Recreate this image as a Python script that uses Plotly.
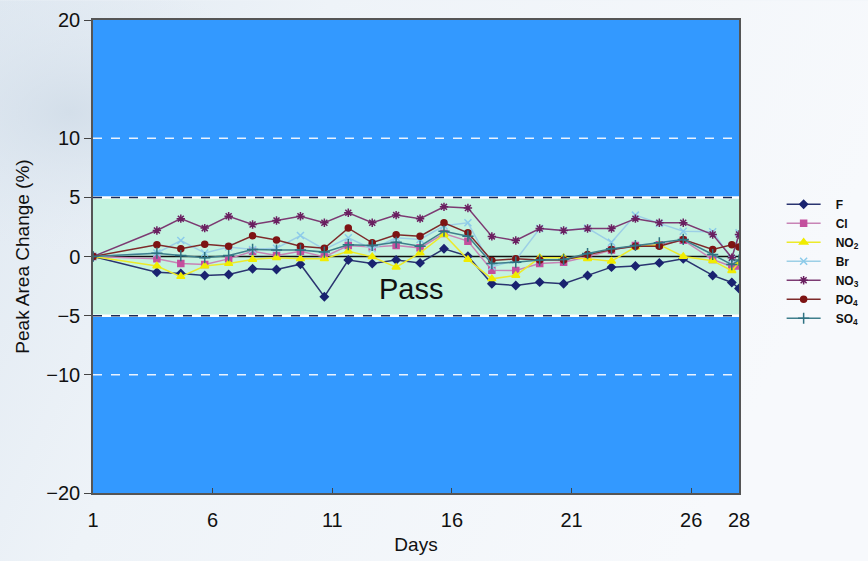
import base64
import plotly.graph_objects as go

# Sampling days for the stability run
days = [1, 3.67, 4.67, 5.67, 6.67, 7.67, 8.67, 9.67, 10.67, 11.67, 12.67, 13.67,
        14.67, 15.67, 16.67, 17.67, 18.67, 19.67, 20.67, 21.67, 22.67, 23.67,
        24.67, 25.67, 26.9, 27.7, 28]

# Peak area change (%) per anion
f_vals = [0, -1.33, -1.44, -1.6, -1.52, -1.04, -1.1, -0.65, -3.4, -0.3, -0.6, -0.3,
          -0.54, 0.65, 0.03, -2.3, -2.45, -2.17, -2.3, -1.6, -0.9, -0.8, -0.54, -0.2,
          -1.6, -2.2, -2.7]
cl_vals = [0, -0.2, -0.6, -0.68, -0.2, 0.45, 0.08, 0.45, -0.03, 0.93, 0.8, 0.93,
           0.73, 1.94, 1.3, -1.16, -1.18, -0.6, -0.48, -0.03, 0.54, 0.93, 1.0, 1.38,
           -0.25, -0.85, -0.8]
no2_vals = [0, -0.8, -1.7, -0.8, -0.6, -0.25, -0.1, -0.2, -0.2, 0.45, -0.03, -0.9,
            0.3, 1.86, -0.25, -1.89, -1.6, -0.1, -0.1, -0.2, -0.4, 0.8, 1.0, 0.0,
            -0.35, -1.2, -0.5]
br_vals = [0, 0.3, 1.35, 0.3, 0.8, 0.6, 0.7, 1.77, 0.6, 1.58, 0.65, 1.58,
           1.44, 2.6, 2.85, -0.87, -0.3, 2.37, 2.2, 2.4, 1.2, 3.5, 2.8, 2.14,
           2.1, -0.2, 2.0]
no3_vals = [0, 2.2, 3.2, 2.4, 3.4, 2.7, 3.04, 3.4, 2.85, 3.7, 2.85, 3.5,
            3.2, 4.2, 4.1, 1.7, 1.35, 2.37, 2.2, 2.37, 2.37, 3.2, 2.85, 2.85,
            1.86, -0.1, 1.86]
po4_vals = [0, 1.0, 0.65, 1.04, 0.87, 1.75, 1.4, 0.87, 0.7, 2.4, 1.16, 1.83,
            1.72, 2.85, 2.0, -0.34, -0.2, -0.3, -0.3, 0.17, 0.6, 0.87, 0.87, 1.44,
            0.6, 1.0, 0.8]
so4_vals = [0, 0.28, 0.08, -0.1, 0.08, 0.6, 0.54, 0.54, 0.37, 1.0, 0.93, 1.2,
            0.87, 2.14, 1.72, -0.6, -0.48, -0.3, -0.25, 0.25, 0.65, 0.93, 1.16, 1.44,
            0.17, -0.68, -0.3]

series_names = ["F", "Cl", "NO<sub>2</sub>", "Br", "NO<sub>3</sub>", "PO<sub>4</sub>", "SO<sub>4</sub>"]
series_vals = [f_vals, cl_vals, no2_vals, br_vals, no3_vals, po4_vals, so4_vals]
line_colors = ["#2a3470", "#c884b6", "#ecea2a", "#9ccfe6", "#7c3a72", "#7e2a2a", "#3f7f8c"]
marker_colors = ["#1a2370", "#c4509e", "#f0ec00", "#8ccbea", "#6a1f60", "#7e1414", "#2f7282"]
symbols = ["diamond", "square", "triangle-up", "x-thin-open", "asterisk-open", "circle", "cross-thin-open"]
marker_sizes = [6, 6, 7, 7, 7, 6, 8]

x_ticks = [1, 6, 11, 16, 21, 26, 28]
y_ticks = [-20, -10, -5, 0, 5, 10, 20]

Y_MIN, Y_MAX = -20, 20
PASS_LIMIT = 5
WARN_LIMIT = 10

font_main = "Liberation Sans Narrow, Arial Narrow, Liberation Sans, Arial, sans-serif"
PAD = "\u00a0\u00a0\u00a0"  # gap between legend symbol and label

# Soft light backdrop for the whole page
bg_svg = (
    '<svg xmlns="http://www.w3.org/2000/svg" width="868" height="561">'
    '<defs><linearGradient id="g" x1="0" y1="0" x2="1" y2="0.3">'
    '<stop offset="0" stop-color="#dfe8f1"/><stop offset="0.35" stop-color="#eef3f8"/>'
    '<stop offset="1" stop-color="#f7f9fc"/></linearGradient>'
    '<radialGradient id="r" cx="0.08" cy="0.2" r="0.25">'
    '<stop offset="0" stop-color="#cfdbe7" stop-opacity="0.8"/>'
    '<stop offset="1" stop-color="#dfe8f1" stop-opacity="0"/></radialGradient></defs>'
    '<rect width="868" height="561" fill="url(#g)"/>'
    '<rect width="868" height="561" fill="url(#r)"/></svg>'
)
bg_uri = "data:image/svg+xml;base64," + base64.b64encode(bg_svg.encode()).decode()

fig = go.Figure()

for name, vals, lc, mc, sym, ms in zip(series_names, series_vals, line_colors,
                                       marker_colors, symbols, marker_sizes):
    fig.add_trace(go.Scatter(
        x=days, y=vals, name=PAD + name, mode="lines+markers",
        line=dict(color=lc, width=1.5),
        marker=dict(symbol=sym, size=ms, color=mc, line=dict(color=mc, width=1.5)),
    ))

shapes = [
    # fail zone fills the whole plotting area
    dict(type="rect", xref="x", yref="y", x0=1, x1=28, y0=Y_MIN, y1=Y_MAX,
         fillcolor="#3399ff", line=dict(width=0), layer="below"),
    # pass band
    dict(type="rect", xref="x", yref="y", x0=1, x1=28, y0=-PASS_LIMIT, y1=PASS_LIMIT,
         fillcolor="#c4f3e0", line=dict(width=0), layer="below"),
    # zero reference
    dict(type="line", xref="x", yref="y", x0=1, x1=28, y0=0, y1=0,
         line=dict(color="#111111", width=1.5), layer="below"),
]
for lim in (PASS_LIMIT, -PASS_LIMIT):
    shapes.append(dict(type="line", xref="x", yref="y", x0=1, x1=28, y0=lim, y1=lim,
                       line=dict(color="#ffffff", width=2.5), layer="below"))
    shapes.append(dict(type="line", xref="x", yref="y", x0=1, x1=28, y0=lim, y1=lim,
                       line=dict(color="#1d2a55", width=1.5, dash="dash"), layer="below"))
for lim in (WARN_LIMIT, -WARN_LIMIT):
    shapes.append(dict(type="line", xref="x", yref="y", x0=1, x1=28, y0=lim, y1=lim,
                       line=dict(color="#e8f2ff", width=1.5, dash="dash"), layer="below"))

fig.update_layout(
    width=868, height=561,
    margin=dict(l=93, r=129, t=20, b=68, autoexpand=False),
    paper_bgcolor="#eef3f8",
    plot_bgcolor="#3399ff",
    images=[dict(source=bg_uri, xref="paper", yref="paper", x=-0.144, y=1.042,
                 sizex=1.344, sizey=1.186, sizing="stretch", layer="below")],
    shapes=shapes,
    font=dict(family=font_main, color="#111111"),
    showlegend=True,
    legend=dict(x=1.066, y=0.49, xanchor="left", yanchor="middle",
                bgcolor="rgba(0,0,0,0)",
                font=dict(family="Liberation Sans, Arial, sans-serif", size=12,
                          color="#111111", weight="bold"),
                itemwidth=34, tracegroupgap=0),
    annotations=[dict(x=14.3, y=-2.75, xref="x", yref="y", text="Pass", showarrow=False,
                      font=dict(family="Liberation Sans, Arial, sans-serif", size=29,
                                color="#111111"))],
)

fig.update_xaxes(
    range=[1, 28], tickvals=x_ticks, ticktext=[str(t) for t in x_ticks],
    ticks="inside", ticklen=5, tickcolor="#444444",
    showgrid=False, zeroline=False, automargin=False,
    showline=True, linecolor="#555555", linewidth=1.5, mirror=True,
    tickfont=dict(size=20, family=font_main), ticklabelstandoff=8,
    title=dict(text="Days", font=dict(size=19, family=font_main), standoff=8),
)
fig.update_yaxes(
    range=[Y_MIN, Y_MAX], tickvals=y_ticks,
    ticks="outside", ticklen=7, tickcolor="#444444",
    showgrid=False, zeroline=False, automargin=False,
    showline=True, linecolor="#555555", linewidth=1.5, mirror=True,
    tickfont=dict(size=20, family=font_main),
    title=dict(text="Peak Area Change (%)", font=dict(size=19, family=font_main), standoff=12),
)

fig.write_html("out.html")
